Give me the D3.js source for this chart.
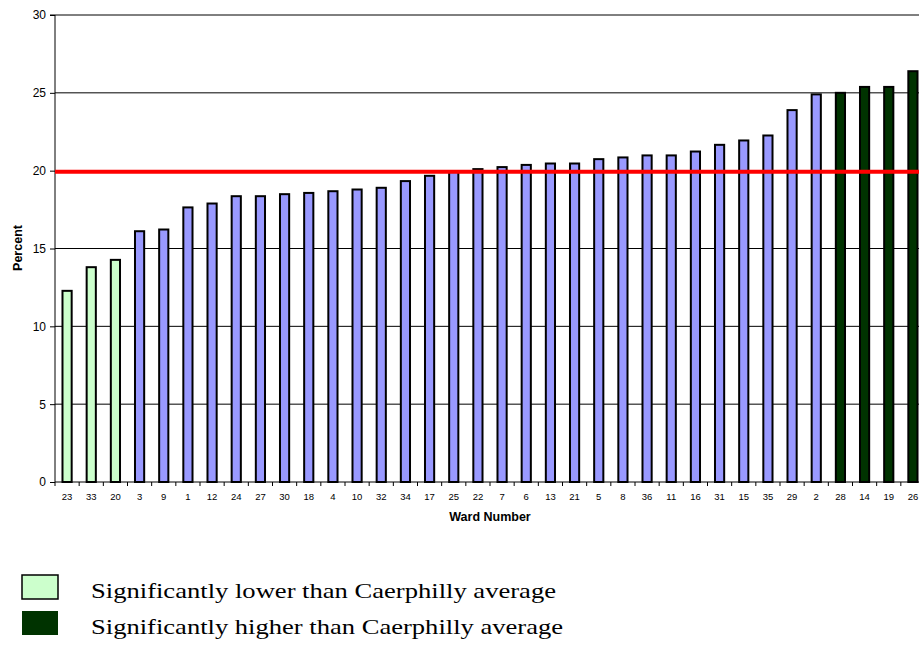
<!DOCTYPE html>
<html>
<head>
<meta charset="utf-8">
<script src="https://cdn.jsdelivr.net/npm/d3@7"></script>
<style>
  html, body { margin: 0; padding: 0; background: #fff; }
  svg { display: block; }
</style>
</head>
<body>
<script>
// Ward numbers, ordered by percentage
const wards = ["23","33","20","3","9","1","12","24","27","30","18","4","10","32","34","17","25","22","7","6","13","21","5","8","36","11","16","31","15","35","29","2","28","14","19","26"];
// Percent for each ward
const percent = [12.28,13.8,14.27,16.11,16.22,17.64,17.89,18.36,18.36,18.49,18.57,18.68,18.79,18.9,19.33,19.67,19.96,20.1,20.23,20.37,20.46,20.46,20.74,20.85,20.98,20.98,21.23,21.66,21.94,22.26,23.89,24.9,25.0,25.38,25.38,26.39];
// Significance group: "low", "avg", "high"
const group = ["low","low","low","avg","avg","avg","avg","avg","avg","avg","avg","avg","avg","avg","avg","avg","avg","avg","avg","avg","avg","avg","avg","avg","avg","avg","avg","avg","avg","avg","avg","avg","high","high","high","high"];
const yTicks = [0,5,10,15,20,25,30];
const boroughAverage = 19.93;
const legendLabels = ["Significantly lower than Caerphilly average","Significantly higher than Caerphilly average"];

const W = 919, H = 646;
const fills = { low: "#CCFFCC", avg: "#9999FF", high: "#003300" };
const sans = "'Liberation Sans', Arial, sans-serif";
const serif = "'Liberation Serif', 'Times New Roman', serif";

const svg = d3.select("body").append("svg").attr("width", W).attr("height", H);

const plot = { left: 55, right: 925, top: 15, bottom: 482 };

const y = d3.scaleLinear().domain([0, 30]).range([plot.bottom, plot.top]);
const xStep = d3.scaleBand().domain(wards).range([plot.left, plot.right]).padding(0);
const pad = 0.62;
const x = d3.scaleBand().domain(wards).range([plot.left, plot.right])
  .paddingInner(pad).paddingOuter(pad / 2);

// horizontal gridlines
svg.append("g").selectAll("line").data(yTicks.filter(t => t > 0)).join("line")
  .attr("x1", plot.left).attr("x2", W)
  .attr("y1", d => y(d)).attr("y2", d => y(d))
  .attr("stroke", "#000").attr("stroke-width", 1);

// y axis
const yAxis = d3.axisLeft(y).tickValues(yTicks).tickSize(5).tickPadding(4).tickFormat(d3.format("d"));
const gy = svg.append("g").attr("transform", `translate(${plot.left},0)`).call(yAxis);
gy.select(".domain").attr("stroke", "#000").attr("d", `M-5,${y(30)}H0V${y(0)}`);
gy.selectAll(".tick line").attr("stroke", "#000");
gy.selectAll("text").attr("font-family", sans)
  .attr("font-size", 12).attr("fill", "#000");

// bars
svg.append("g").selectAll("rect").data(wards).join("rect")
  .attr("x", d => x(d))
  .attr("width", x.bandwidth())
  .attr("y", (d, i) => y(percent[i]))
  .attr("height", (d, i) => y(0) - y(percent[i]))
  .attr("fill", (d, i) => fills[group[i]])
  .attr("stroke", "#000").attr("stroke-width", 2);

// average reference line
svg.append("line")
  .attr("x1", plot.left).attr("x2", W)
  .attr("y1", y(boroughAverage)).attr("y2", y(boroughAverage))
  .attr("stroke", "#FF0000").attr("stroke-width", 4);

// x axis
const gx = svg.append("g").attr("transform", `translate(0,${plot.bottom})`);
gx.append("line").attr("x1", plot.left).attr("x2", W).attr("y1", 0).attr("y2", 0)
  .attr("stroke", "#000").attr("stroke-width", 1);
const boundaries = wards.map(d => xStep(d)).concat([xStep(wards[wards.length - 1]) + xStep.step()]);
gx.selectAll("line.tk").data(boundaries).join("line").attr("class", "tk")
  .attr("x1", d => d).attr("x2", d => d).attr("y1", 0).attr("y2", 4)
  .attr("stroke", "#000");
gx.selectAll("text.lbl").data(wards).join("text").attr("class", "lbl")
  .attr("x", d => xStep(d) + xStep.bandwidth() / 2)
  .attr("y", 18)
  .attr("text-anchor", "middle")
  .attr("font-family", sans)
  .attr("font-size", 9.5).attr("fill", "#000")
  .text(d => d);

// axis titles
svg.append("text")
  .attr("x", (plot.left + plot.right) / 2).attr("y", 521)
  .attr("text-anchor", "middle")
  .attr("font-family", sans)
  .attr("font-weight", "bold").attr("font-size", 12.5)
  .text("Ward Number");

svg.append("text")
  .attr("transform", "translate(22,248) rotate(-90)")
  .attr("text-anchor", "middle")
  .attr("font-family", sans)
  .attr("font-weight", "bold").attr("font-size", 12.5)
  .text("Percent");

// legend
const legend = svg.append("g");
const legendKeys = ["low", "high"];
const legendRow = [0, 36];
legend.selectAll("rect").data(legendKeys).join("rect")
  .attr("x", 22).attr("y", (d, i) => 575 + legendRow[i])
  .attr("width", 36).attr("height", 24)
  .attr("fill", d => fills[d])
  .attr("stroke", d => d === "low" ? "#000" : "none").attr("stroke-width", 1.5);
legend.selectAll("text").data(legendLabels).join("text")
  .attr("x", 91).attr("y", (d, i) => 598 + legendRow[i])
  .attr("font-family", serif)
  .attr("font-size", 22).attr("fill", "#000")
  .attr("textLength", (d, i) => i === 0 ? 465 : 472)
  .attr("lengthAdjust", "spacingAndGlyphs")
  .text(d => d);
</script>
</body>
</html>
